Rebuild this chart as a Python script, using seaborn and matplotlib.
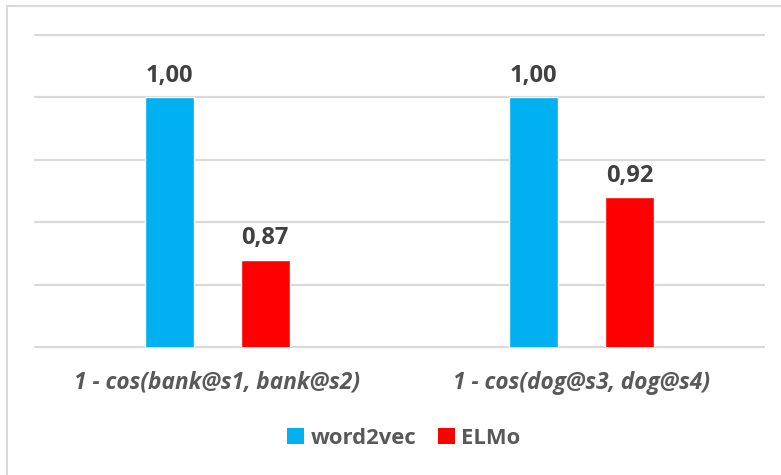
import matplotlib
matplotlib.use("Agg")
import matplotlib.pyplot as plt
from matplotlib.patches import Rectangle, Patch
import numpy as np
import pandas as pd
import seaborn as sns

# Distances between contextual embeddings of the same word in two sentences
categories = ["1 - cos(bank@s1, bank@s2)", "1 - cos(dog@s3, dog@s4)"]
models = ["word2vec", "ELMo"]
word2vec_vals = [1.00, 1.00]
elmo_vals = [0.87, 0.92]
colors = ["#00B0F0", "#FF0000"]

df = pd.DataFrame({
    "pair": categories * 2,
    "model": [models[0]] * 2 + [models[1]] * 2,
    "distance": word2vec_vals + elmo_vals,
})

sns.set_theme(style="white")
plt.rcParams["font.family"] = ["Open Sans", "DejaVu Sans"]

W, H = 781, 475
fig = plt.figure(figsize=(W / 100, H / 100), dpi=100)
ax = fig.add_axes([35 / W, 1 - 347 / H, (764 - 35) / W, (347 - 35) / H])

sns.barplot(data=df, x="pair", y="distance", hue="model", hue_order=models,
            palette=colors, width=0.526, gap=0.49, ax=ax, legend=False,
            errorbar=None, saturation=1)

ax.set_xlim(-0.5, 1.5)
ax.set_ylim(0.8, 1.05)
ax.set_yticks(np.arange(0.8, 1.0501, 0.05))
ax.yaxis.grid(True, color="#D9D9D9", linewidth=1.6)
ax.set_axisbelow(True)
for gl in ax.get_ygridlines():
    gl.set_clip_on(False)
ax.tick_params(axis="y", left=False, labelleft=False)
ax.tick_params(axis="x", length=0, pad=17)
for lbl in ax.get_xticklabels():
    lbl.set_fontsize(16.3)
    lbl.set_fontweight("bold")
    lbl.set_fontstyle("italic")
    lbl.set_color("#595959")
ax.set_xlabel("")
ax.set_ylabel("")
for s in ax.spines.values():
    s.set_visible(False)

# Value labels above each bar
for container in ax.containers:
    labels = [f"{v:.2f}".replace(".", ",") for v in container.datavalues]
    ax.bar_label(container, labels=labels, padding=7, fontsize=17,
                 fontweight="bold", color="#404040")

# Legend below the categories
handles = [Patch(facecolor=c, edgecolor="none", label=m) for m, c in zip(models, colors)]
fig.legend(handles=handles, loc="center", bbox_to_anchor=(404 / W, 1 - 438 / H),
           ncol=2, frameon=False, handlelength=0.75, handleheight=0.75,
           handletextpad=0.3, columnspacing=1.0,
           prop={"size": 15.8, "weight": "bold"}, labelcolor="#595959")

# Chart border
fig.patches.append(Rectangle((7 / W, -0.1), 1.2, 1 - 6 / H + 0.1,
                             transform=fig.transFigure, fill=False,
                             edgecolor="#D9D9D9", linewidth=1.5))

fig.savefig("out.png", dpi=100)
